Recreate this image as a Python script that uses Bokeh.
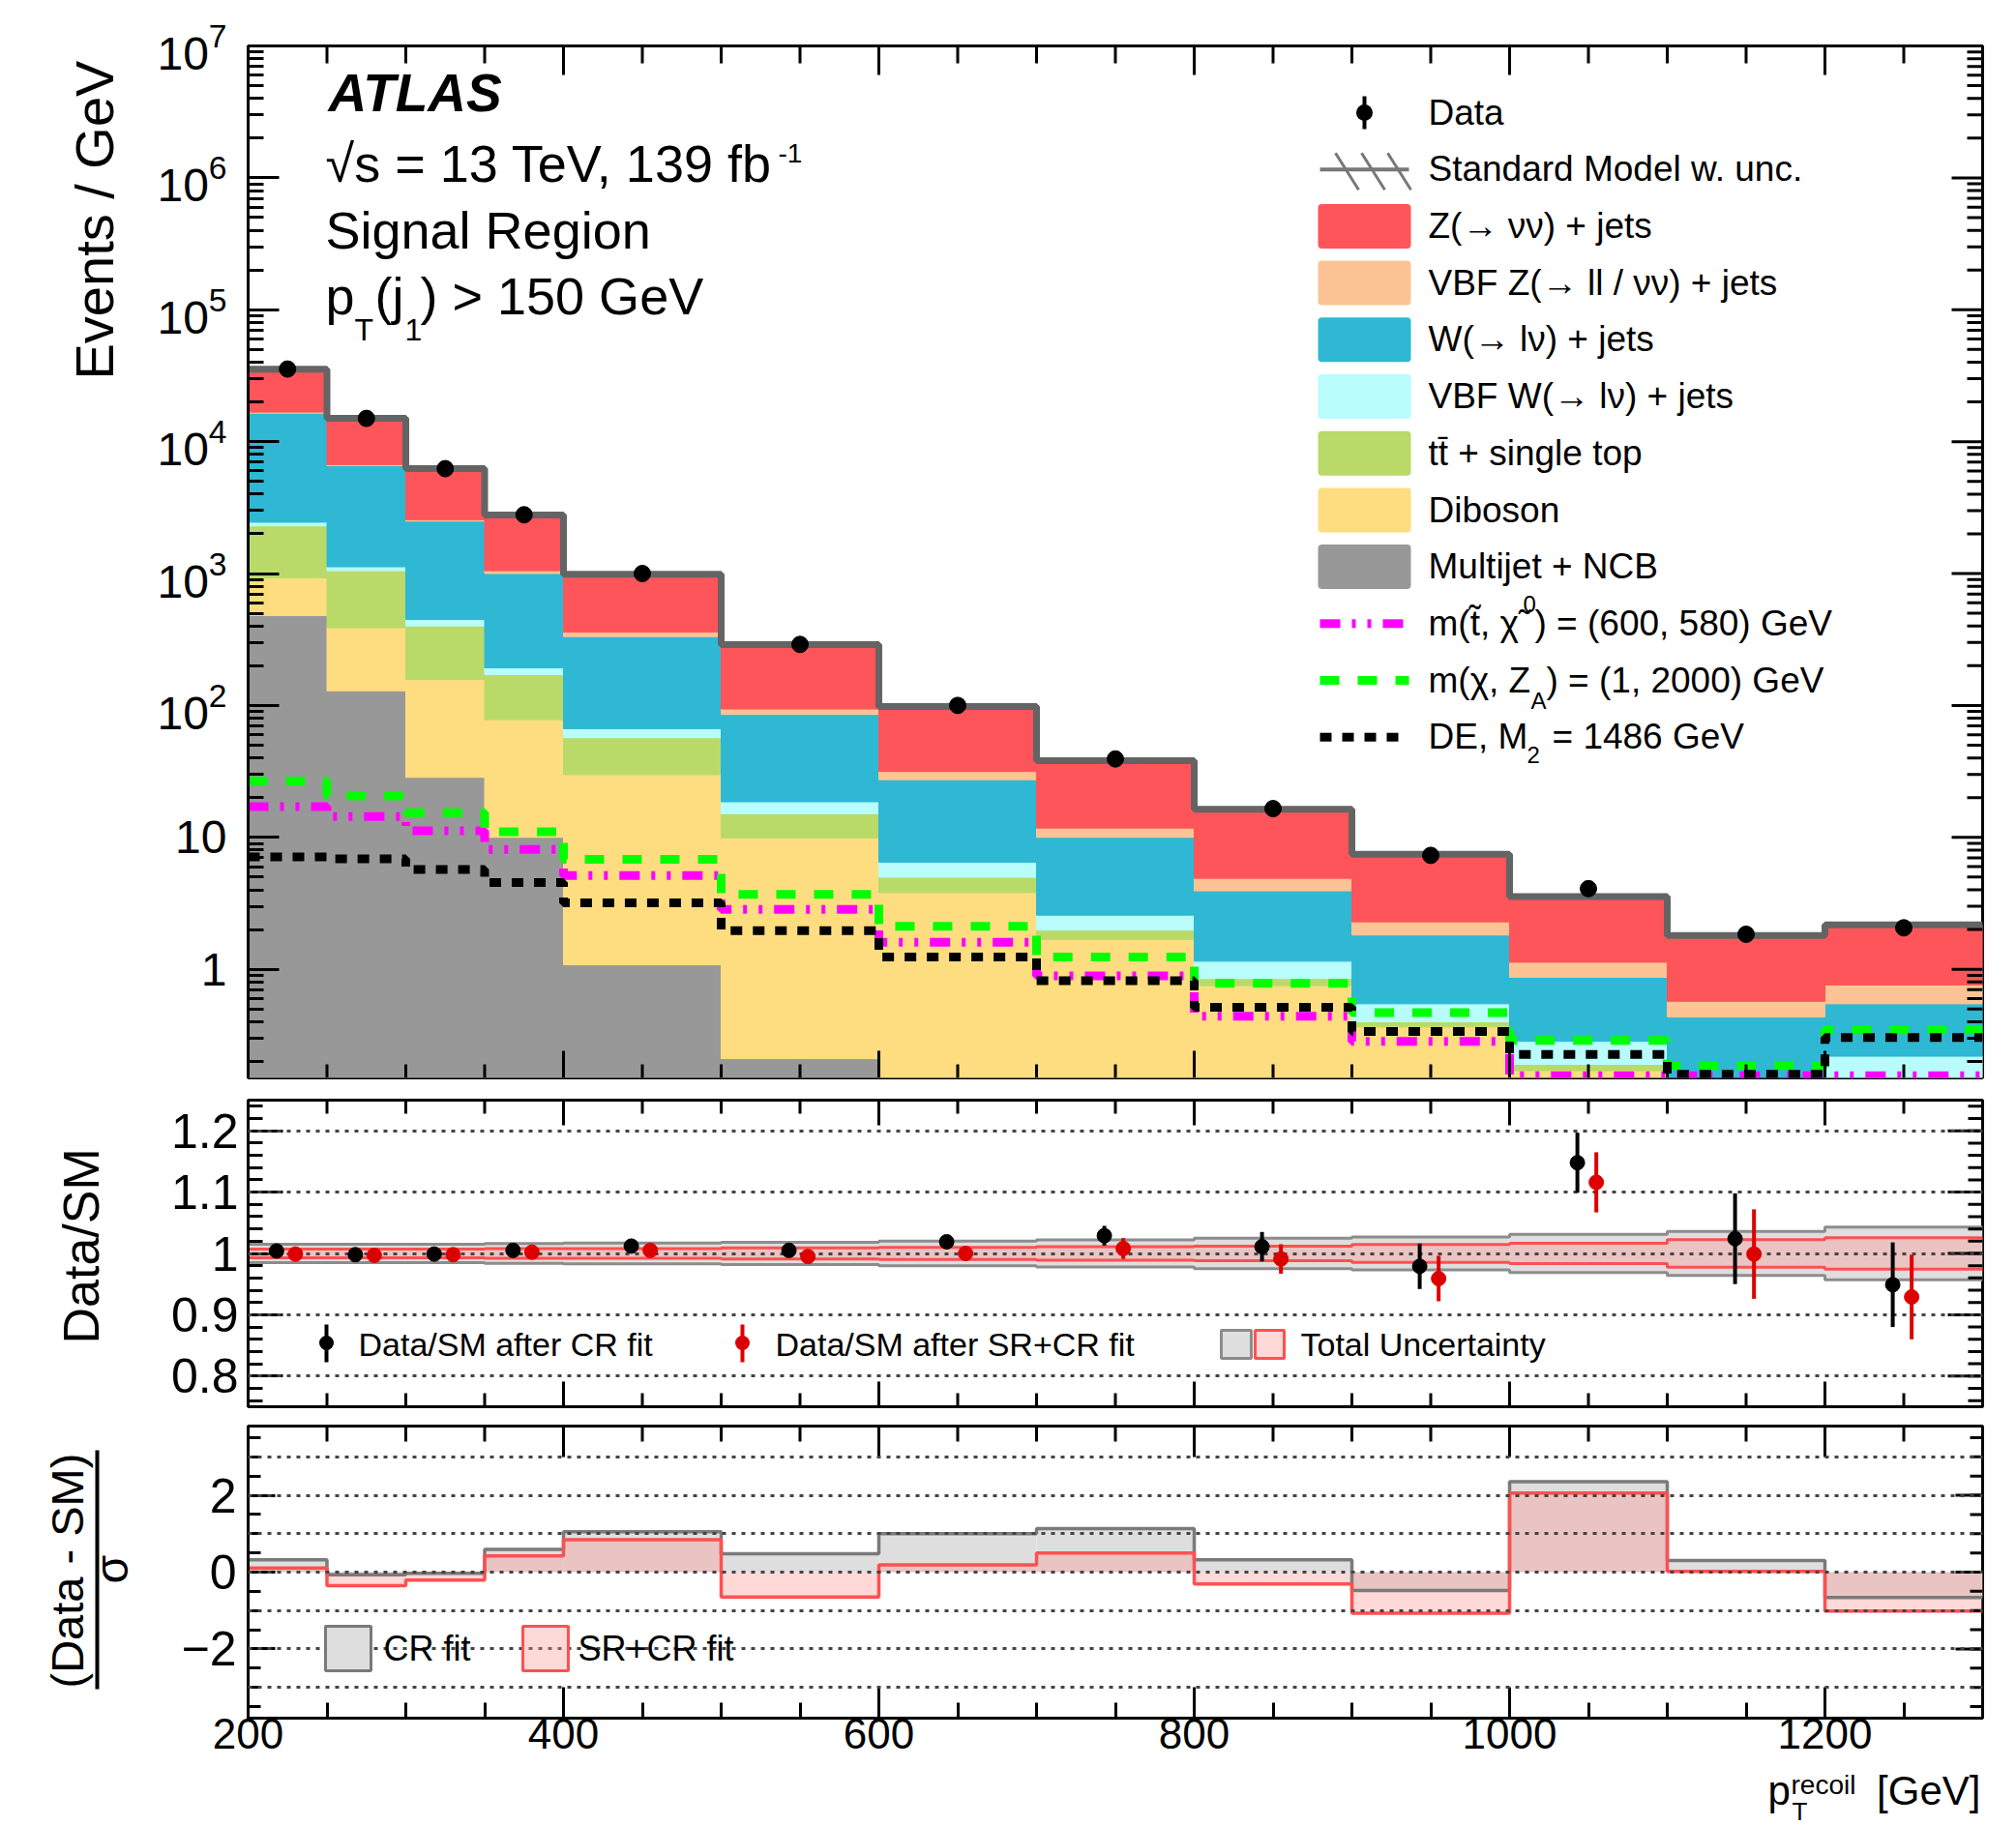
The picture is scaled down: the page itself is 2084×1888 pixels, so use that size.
import numpy as np
from bokeh.plotting import figure
from bokeh.layouts import column, row
from bokeh.models import (Range1d, LinearAxis, LogAxis, FixedTicker, SingleIntervalTicker,
                          LogTickFormatter, Grid, Label, BoxAnnotation, PolyAnnotation)
from bokeh.embed import file_html
from bokeh.resources import INLINE

FONT = "Liberation Sans"

# ------------------------------------------------------------------ data
# bin edges in p_T^recoil [GeV]
edges = [200, 250, 300, 350, 400, 500, 600, 700, 800, 900, 1000, 1100, 1200, 1300]

# SM backgrounds [events / GeV], stacked bottom to top
multijet = [480, 129, 28.5, 10, 1.08, 0.21, 0.05, 0.02, 0.01, 0.005, 0.003, 0.002, 0.002]
diboson = [450, 259, 128.5, 68, 28.8, 9.69, 3.76, 1.66, 0.74, 0.36, 0.167, 0.058, 0.078]
top_quark = [1370, 662, 244, 93, 27.1, 5.2, 1.17, 0.30, 0.10, 0.035, 0.02, 0.01, 0.01]
vbf_w = [150, 75, 47, 22, 9.7, 3.5, 1.49, 0.59, 0.30, 0.147, 0.094, 0.05, 0.129]
w_jets = [14000, 5455, 2052, 807, 266, 66.9, 20.9, 7.43, 2.78, 1.27, 0.586, 0.314, 0.328]
vbf_z = [300, 120, 60, 50, 27, 8.5, 4.2, 1.75, 0.96, 0.47, 0.26, 0.137, 0.213]
z_jets = [18600, 8330, 3686, 1726, 628, 194.6, 66.5, 26.45, 11.4, 5.17, 2.42, 1.23, 1.41]

data = [35500, 15000, 6240, 2790, 1000, 290, 100, 39.3, 16.5, 7.3, 4.08, 1.84, 2.06]

# signal benchmarks [events / GeV]
sig_stop = [17.1, 14.4, 11.2, 8.1, 5.14, 2.84, 1.6, 0.89, 0.44, 0.284, 0.156, 0.156, 0.156]
sig_zprime = [26.7, 20.6, 15.4, 11.0, 6.8, 3.7, 2.12, 1.24, 0.78, 0.468, 0.288, 0.186, 0.347]
sig_de = [7.1, 6.88, 5.71, 4.54, 3.18, 1.96, 1.24, 0.82, 0.514, 0.337, 0.226, 0.16, 0.303]

# Data / SM after the two fits, with data uncertainties
ratio_cr = [1.004, 0.998, 0.999, 1.005, 1.012, 1.005, 1.019, 1.029, 1.011, 0.979, 1.148, 1.024, 0.949]
ratio_cr_err = [0.002, 0.003, 0.004, 0.005, 0.007, 0.008, 0.010, 0.016, 0.024, 0.037, 0.049, 0.074, 0.069]
ratio_sr = [0.999, 0.997, 0.998, 1.002, 1.005, 0.995, 1.000, 1.008, 0.991, 0.959, 1.116, 0.999, 0.929]
ratio_sr_err = [0.002, 0.003, 0.004, 0.005, 0.007, 0.008, 0.010, 0.017, 0.024, 0.037, 0.049, 0.073, 0.069]

# total relative SM uncertainty
unc_cr = [0.015, 0.015, 0.015, 0.016, 0.017, 0.018, 0.020, 0.022, 0.025, 0.027, 0.031, 0.036, 0.043]
unc_sr = [0.007, 0.007, 0.007, 0.008, 0.008, 0.009, 0.010, 0.011, 0.012, 0.0145, 0.0166, 0.0224, 0.0256]

# (Data - SM) / sigma
pull_cr = [0.32, -0.07, -0.03, 0.59, 1.05, 0.48, 1.0, 1.13, 0.32, -0.48, 2.35, 0.30, -0.66]
pull_sr = [0.11, -0.35, -0.21, 0.42, 0.84, -0.65, 0.19, 0.50, -0.31, -1.07, 2.06, 0.02, -1.01]

# ------------------------------------------------------------------ style
C_Z = "#fe555a"
C_VBFZ = "#fcc494"
C_W = "#2eb8d3"
C_VBFW = "#b8fcfc"
C_TOP = "#b9da68"
C_VV = "#fddd80"
C_MJ = "#989898"
C_SM = "#646464"
C_STOP = "#ff00ff"
C_ZP = "#00ff00"
C_DE = "#000000"
DASH_STOP = "21 12 4 12 4 12"
DASH_ZP = "20 19"
DASH_DE = "12 11"

GRAY_FILL = "#dedede"
GRAY_LINE = "#7a7a7a"
RED_FILL = "#ff9393"
RED_ALPHA = 0.36
RED_LINE = "#ff5050"

# canvas geometry (px)
W, H = 2084, 1888
WT = 150                     # strip holding the vertical axis titles
FL, FR = 256, 2049
MAIN_T, MAIN_B = 47, 1114
RAT_T, RAT_B = 1137, 1454
PULL_T, PULL_B = 1474, 1776
XT_TOP = 1827                # strip holding the x-axis title
H1 = 1125
H2 = 339
H3 = XT_TOP - H1 - H2
H4 = H - XT_TOP
B1, B2, B3 = H1, H1 + H2, XT_TOP   # canvas bottoms of the three rows

left = np.array(edges[:-1], dtype=float)
right = np.array(edges[1:], dtype=float)
centers = 0.5 * (left + right)

X0, X1 = 200, 1300
X_MAJOR = list(range(200, 1301, 200))
X_MINOR = [x for x in range(250, 1300, 50) if x % 200 != 0]


def make_fig(height, y_range, top_border, bottom_border, log=False):
    p = figure(width=W - WT, height=height, x_range=x_range, y_range=y_range,
               y_axis_type="log" if log else "linear",
               x_axis_location=None, y_axis_location=None, title=None,
               output_backend="svg", toolbar_location=None,
               min_border_left=FL - WT, min_border_right=W - FR,
               min_border_top=top_border, min_border_bottom=bottom_border)
    p.grid.visible = False
    p.outline_line_color = "black"
    p.outline_line_width = 3
    p.background_fill_color = "white"
    p.border_fill_color = "white"
    return p


def make_strip(width, height):
    # in a row, the strip's frame lines up with its neighbour's frame
    s = figure(width=width, height=height, x_range=Range1d(0, 1), y_range=Range1d(0, 1),
               x_axis_location=None, y_axis_location=None, title=None, output_backend="svg",
               toolbar_location=None, min_border=0)
    s.grid.visible = False
    s.outline_line_color = None
    s.background_fill_color = "white"
    s.border_fill_color = "white"
    return s


def make_axis(cls, ticker, tick_in, minor_in, size=48, standoff=10, formatter=None, overrides=None):
    kw = {}
    if formatter is not None:
        kw["formatter"] = formatter
    ax = cls(ticker=ticker, **kw)
    ax.axis_line_width = 3
    ax.axis_line_color = "black"
    ax.major_tick_in = tick_in
    ax.major_tick_out = 0
    ax.minor_tick_in = minor_in
    ax.minor_tick_out = 0
    ax.major_tick_line_width = 3
    ax.minor_tick_line_width = 3
    ax.major_tick_line_color = "black"
    ax.minor_tick_line_color = "black"
    ax.major_label_text_font = FONT
    ax.major_label_text_color = "black"
    ax.major_label_text_font_size = f"{size}px"
    ax.major_label_standoff = standoff
    if overrides:
        ax.major_label_overrides = overrides
    return ax


def edge_ticks(p, xs, ys, length, angle):
    """Tick marks pointing into the frame from one of its edges."""
    p.ray(x=xs, y=ys, length=length, length_units="screen", angle=angle,
          line_color="black", line_width=3)


def x_edge_ticks(p, y_edge, maj, mnr, up):
    ang = np.pi / 2 if up else -np.pi / 2
    edge_ticks(p, X_MAJOR, [y_edge] * len(X_MAJOR), maj, ang)
    edge_ticks(p, X_MINOR, [y_edge] * len(X_MINOR), mnr, ang)


def y_right_ticks(p, majors, minors, maj, mnr):
    edge_ticks(p, [X1] * len(majors), majors, maj, np.pi)
    edge_ticks(p, [X1] * len(minors), minors, mnr, np.pi)


def lab(p, fl, fb, x, y, text, size, align="left", angle=0.0, style="normal"):
    """Text whose baseline sits at canvas y (or canvas x when vertical).

    (fl, fb) are the canvas coordinates of the frame's left and bottom edges."""
    shift = 0.36 * size
    if angle == 0.0:
        ax_, ay_ = x, y - shift
    else:
        ax_, ay_ = x - shift, y
    p.add_layout(Label(x=ax_ - fl, y=fb - ay_, x_units="screen", y_units="screen", text=text,
                       text_font=FONT, text_font_size=f"{size}px", text_align=align,
                       text_baseline="alphabetic", angle=angle, text_font_style=style,
                       text_color="black"))


def box(p, fl, fb, x0, x1, y0, y1, fill, line=None, lw=0, alpha=1.0, radius=0):
    p.add_layout(BoxAnnotation(left=x0 - fl, right=x1 - fl, top=fb - y0, bottom=fb - y1,
                               left_units="screen", right_units="screen",
                               top_units="screen", bottom_units="screen",
                               fill_color=fill, fill_alpha=alpha,
                               line_color=line, line_width=lw,
                               line_alpha=1.0 if line else 0.0,
                               border_radius=radius, level="overlay"))


def seg(p, fl, fb, x0, y0, x1, y1, color, width):
    p.add_layout(PolyAnnotation(xs=[x0 - fl, x1 - fl], ys=[fb - y0, fb - y1],
                                xs_units="screen", ys_units="screen",
                                fill_alpha=0.0, line_color=color, line_alpha=1.0,
                                line_width=width, level="overlay"))


def dash_swatch(p, fl, fb, x0, x1, yc, h, pattern, color):
    parts = [int(s) for s in pattern.split()]
    pos, i = x0, 0
    while pos < x1:
        ln = parts[i % len(parts)]
        if i % 2 == 0:
            box(p, fl, fb, pos, min(pos + ln, x1), yc - h / 2, yc + h / 2, color)
        pos += ln
        i += 1


def steps(values):
    v = list(values)
    return v + [v[-1]]


x_range = Range1d(X0, X1)
x_ticker = SingleIntervalTicker(interval=200, num_minor_ticks=4)

# ================================================================== main panel
Y1_MIN, Y1_MAX = 0.15, 1e7
p1 = make_fig(H1, Range1d(Y1_MIN, Y1_MAX), MAIN_T, H1 - MAIN_B, log=True)
dec_major = [10.0 ** e for e in range(0, 8)]
dec_minor = [m * 10.0 ** e for e in range(-1, 7) for m in range(2, 10) if m * 10.0 ** e > Y1_MIN]
log_ticker = FixedTicker(ticks=dec_major, minor_ticks=dec_minor)
p1.add_layout(make_axis(LogAxis, log_ticker, 32, 16, size=48, standoff=22,
                        formatter=LogTickFormatter(min_exponent=2)), "left")

stack = [(multijet, C_MJ), (diboson, C_VV), (top_quark, C_TOP), (vbf_w, C_VBFW),
         (w_jets, C_W), (vbf_z, C_VBFZ), (z_jets, C_Z)]
cum = np.zeros(len(left))
for vals, col in stack:
    new = cum + np.array(vals, dtype=float)
    bottom = np.where(cum > 0, cum, 1e-3)
    p1.quad(left=left, right=right, bottom=bottom, top=new,
            fill_color=col, line_color=col, line_width=1)
    cum = new
sm_total = cum

p1.step(x=edges, y=steps(sm_total), mode="after", line_color=C_SM, line_width=7)
p1.step(x=edges, y=steps(sig_stop), mode="after", line_color=C_STOP, line_width=9,
        line_dash=DASH_STOP)
p1.step(x=edges, y=steps(sig_zprime), mode="after", line_color=C_ZP, line_width=9,
        line_dash=DASH_ZP)
p1.step(x=edges, y=steps(sig_de), mode="after", line_color=C_DE, line_width=9,
        line_dash=DASH_DE)
p1.scatter(x=centers, y=data, size=17, color="black")

x_edge_ticks(p1, Y1_MIN, 28, 14, up=True)
x_edge_ticks(p1, Y1_MAX, 30, 18, up=False)
y_right_ticks(p1, dec_major, dec_minor, 32, 16)

# labels
M = (p1, FL, MAIN_B)
lab(*M, 339, 115, "ATLAS", 55, style="bold italic")
lab(*M, 336, 188, "\u221as = 13 TeV, 139 fb", 54)
lab(*M, 804, 168, "-1", 28)
lab(*M, 336, 257, "Signal Region", 54)
lab(*M, 336, 325, "p", 54)
lab(*M, 366, 352, "T", 32)
lab(*M, 387, 325, "(j", 54)
lab(*M, 418, 352, "1", 32)
lab(*M, 434, 325, ") > 150 GeV", 54)

# legend
LX0, LX1, TX = 1362, 1458, 1476
LFS = 37
rows = [116 + 58.7 * k for k in range(12)]
# data
box(*M, 1408, 1412, rows[0] - 17, rows[0] + 17, "black")
box(*M, 1401.5, 1418.5, rows[0] - 8.5, rows[0] + 8.5, "black", radius=9)
lab(*M, TX, rows[0] + 13, "Data", LFS)
# SM with uncertainty hatch
box(*M, 1364, 1456, rows[1] - 2, rows[1] + 2, "#777777")
for hx in (1380, 1407, 1434):
    seg(*M, hx, rows[1] - 17, hx + 24, rows[1] + 21, "#777777", 3)
lab(*M, TX, rows[1] + 13, "Standard Model w. unc.", LFS)
box_items = [(C_Z, "Z(\u2192 \u03bd\u03bd) + jets"),
             (C_VBFZ, "VBF Z(\u2192 ll / \u03bd\u03bd) + jets"),
             (C_W, "W(\u2192 l\u03bd) + jets"),
             (C_VBFW, "VBF W(\u2192 l\u03bd) + jets"),
             (C_TOP, "tt\u0304 + single top"),
             (C_VV, "Diboson"),
             (C_MJ, "Multijet + NCB")]
for k, (col, txt) in enumerate(box_items, start=2):
    box(*M, LX0, LX1, rows[k] - 23, rows[k] + 23, col, radius=4)
    lab(*M, TX, rows[k] + 13, txt, LFS)
# signals
dash_swatch(*M, 1364, 1456, rows[9], 9, DASH_STOP, C_STOP)
lab(*M, TX, rows[9] + 13, "m(t\u0303, \u03c7\u0303", LFS)
lab(*M, 1574, rows[9] - 12, "0", 24)
lab(*M, 1586, rows[9] + 13, ") = (600, 580) GeV", LFS)
dash_swatch(*M, 1364, 1456, rows[10], 9, DASH_ZP, C_ZP)
lab(*M, TX, rows[10] + 13, "m(\u03c7, Z", LFS)
lab(*M, 1582, rows[10] + 30, "A", 24)
lab(*M, 1598, rows[10] + 13, ") = (1, 2000) GeV", LFS)
dash_swatch(*M, 1364, 1456, rows[11], 9, DASH_DE, C_DE)
lab(*M, TX, rows[11] + 13, "DE, M", LFS)
lab(*M, 1578, rows[11] + 27, "2", 24)
lab(*M, 1604, rows[11] + 13, "= 1486 GeV", LFS)

# ================================================================== ratio panel
Y2_MIN, Y2_MAX = 0.75, 1.25
p2 = make_fig(H2, Range1d(Y2_MIN, Y2_MAX), RAT_T - H1, B2 - RAT_B)
r_ticks = [0.8, 0.9, 1.0, 1.1, 1.2]
r_minor = [round(0.76 + 0.02 * i, 2) for i in range(25)]
r_ticker = FixedTicker(ticks=r_ticks, minor_ticks=r_minor)
p2.add_layout(make_axis(LinearAxis, r_ticker, 36, 15, size=50, standoff=10,
                        overrides={0.8: "0.8", 0.9: "0.9", 1.0: "1", 1.1: "1.1", 1.2: "1.2"}),
              "left")

ucr = np.array(unc_cr)
usr = np.array(unc_sr)
p2.quad(left=left, right=right, bottom=1 - ucr, top=1 + ucr, fill_color=GRAY_FILL, line_color=None)
p2.step(x=edges, y=steps(1 + ucr), mode="after", line_color="#8c8c8c", line_width=3)
p2.step(x=edges, y=steps(1 - ucr), mode="after", line_color="#8c8c8c", line_width=3)
p2.quad(left=left, right=right, bottom=1 - usr, top=1 + usr, fill_color=RED_FILL,
        fill_alpha=RED_ALPHA, line_color=None)
p2.step(x=edges, y=steps(1 + usr), mode="after", line_color=RED_LINE, line_width=3)
p2.step(x=edges, y=steps(1 - usr), mode="after", line_color=RED_LINE, line_width=3)

p2.add_layout(Grid(dimension=1, ticker=FixedTicker(ticks=r_ticks), grid_line_color="#444444",
                   grid_line_width=3, grid_line_dash="4 6", level="guide"))

for vals, errs, dx, col in ((ratio_cr, ratio_cr_err, -7, "black"),
                            (ratio_sr, ratio_sr_err, 5, "#dd0000")):
    v = np.array(vals)
    e = np.array(errs)
    s = p2.segment(x0=centers + dx, x1=centers + dx, y0=v - e, y1=v + e, line_color=col, line_width=4)
    s.level = "overlay"
    m = p2.scatter(x=centers + dx, y=v, size=15, color=col)
    m.level = "overlay"

x_edge_ticks(p2, Y2_MIN, 26, 14, up=True)
x_edge_ticks(p2, Y2_MAX, 26, 14, up=False)
y_right_ticks(p2, r_ticks, r_minor, 36, 15)

# legend
R = (p2, FL, RAT_B)
box(*R, 335, 339, 1369, 1408, "black")
box(*R, 329.5, 344.5, 1380.5, 1395.5, "black", radius=8)
lab(*R, 370, 1402, "Data/SM after CR fit", 34)
box(*R, 765, 769, 1369, 1408, "#dd0000")
box(*R, 759.5, 774.5, 1380.5, 1395.5, "#dd0000", radius=8)
lab(*R, 801, 1402, "Data/SM after SR+CR fit", 34)
box(*R, 1262, 1293, 1375, 1404, GRAY_FILL, line="#8c8c8c", lw=3)
box(*R, 1297, 1327, 1375, 1404, RED_FILL, line=RED_LINE, lw=3, alpha=RED_ALPHA)
lab(*R, 1344, 1402, "Total Uncertainty", 34)

# ================================================================== pull panel
Y3_MIN, Y3_MAX = -3.8, 3.8
p3 = make_fig(H3, Range1d(Y3_MIN, Y3_MAX), PULL_T - B2, B3 - PULL_B)
p_major = [-2, 0, 2]
p_minor = [-3.5 + 0.5 * i for i in range(15)]
p_ticker = FixedTicker(ticks=p_major, minor_ticks=p_minor)
p3.add_layout(make_axis(LinearAxis, p_ticker, 28, 13, size=50, standoff=12,
                        overrides={-2: "\u22122", 0: "0", 2: "2"}), "left")
p3.add_layout(make_axis(LinearAxis, x_ticker, 32, 16, size=44, standoff=0), "below")

p3.quad(left=left, right=right, bottom=0, top=pull_cr, fill_color=GRAY_FILL, line_color=None)
p3.quad(left=left, right=right, bottom=0, top=pull_sr, fill_color=RED_FILL,
        fill_alpha=RED_ALPHA, line_color=None)
p3.step(x=edges, y=steps(pull_cr), mode="after", line_color=GRAY_LINE, line_width=3.5)
p3.step(x=edges, y=steps(pull_sr), mode="after", line_color=RED_LINE, line_width=3.5)
p3.add_layout(Grid(dimension=1, ticker=FixedTicker(ticks=[-3, -2, -1, 0, 1, 2, 3]),
                   grid_line_color="#444444", grid_line_width=3, grid_line_dash="4 6",
                   level="guide"))

x_edge_ticks(p3, Y3_MAX, 32, 16, up=False)
y_right_ticks(p3, p_major, p_minor, 28, 13)

# legend
P = (p3, FL, PULL_B)
box(*P, 336, 383, 1681, 1727, GRAY_FILL, line=GRAY_LINE, lw=3)
lab(*P, 396, 1717, "CR fit", 36)
box(*P, 540, 587, 1681, 1727, RED_FILL, line=RED_LINE, lw=3, alpha=RED_ALPHA)
lab(*P, 597, 1717, "SR+CR fit", 36)

# ================================================================== axis titles
# vertical titles read bottom-to-top; y is where each text starts.  Each strip's
# frame shares the vertical extent of the panel frame next to it.
t1 = make_strip(WT, H1)
lab(t1, 0, MAIN_B, 117, 392, "Events / GeV", 56, angle=np.pi / 2)
t2 = make_strip(WT, H2)
lab(t2, 0, RAT_B, 102, 1389, "Data/SM", 52, angle=np.pi / 2)
t3 = make_strip(WT, H3)
lab(t3, 0, PULL_B, 86, 1745, "(Data - SM)", 47, angle=np.pi / 2)
box(t3, 0, PULL_B, 98, 102, 1499, 1746, "black")
lab(t3, 0, PULL_B, 132, 1637, "\u03c3", 48, angle=np.pi / 2)

xt = make_strip(W, H4)
lab(xt, 0, H, 1827, 1866, "p", 42)
lab(xt, 0, H, 1851, 1855, "recoil", 28)
lab(xt, 0, H, 1852, 1882, "T", 26)
lab(xt, 0, H, 2047, 1866, "[GeV]", 42, align="right")

layout = column(row(t1, p1, spacing=0), row(t2, p2, spacing=0), row(t3, p3, spacing=0), xt,
                spacing=0)
open("out.html", "w").write(file_html(layout, INLINE))
